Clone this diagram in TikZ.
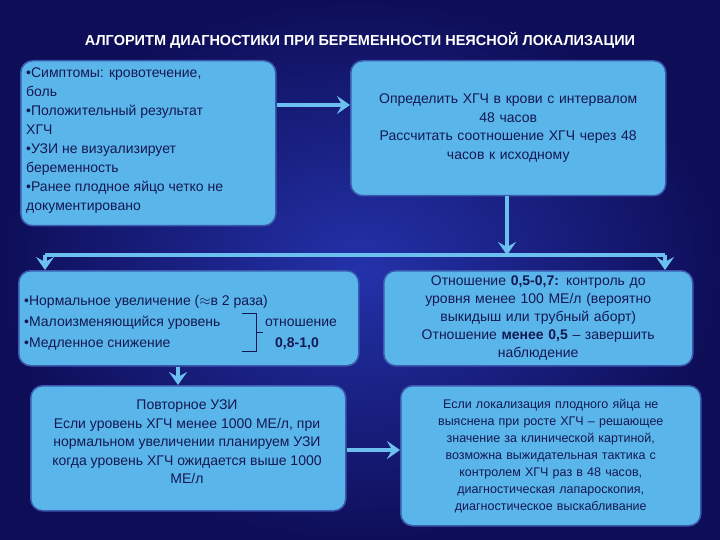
\documentclass[tikz,border=0pt]{standalone}
\usepackage{fontspec}
\setmainfont{Liberation Sans}
\usetikzlibrary{arrows.meta}
\definecolor{bx}{HTML}{5AB6EA}
\definecolor{bd}{HTML}{3A5AB0}
\definecolor{tx}{HTML}{141852}
\definecolor{ar}{HTML}{6CC0F0}
\begin{document}
\begin{tikzpicture}[x=1pt,y=-1pt,
  box/.style={draw=bd,line width=1.5pt,fill=bx,rounded corners=12pt,text=tx,font=\fontsize{14}{18.5}\selectfont,inner sep=4pt},
  ct/.style={text=tx,font=\fontsize{14}{18}\selectfont,anchor=base west,inner sep=0pt},
  arr/.style={draw=ar,line width=3.5pt,-{Stealth[length=13pt,width=18pt,inset=5pt]}},
  ln/.style={draw=ar,line width=3.5pt}]
\shade[inner color={rgb,255:red,36;green,50;blue,170},outer color={rgb,255:red,14;green,14;blue,88}] (0,0) rectangle (720,540);
\useasboundingbox (0,0) rectangle (720,540);
\node[text=white,font=\bfseries\fontsize{14.5}{17}\selectfont] (t) at (360,40) {АЛГОРИТМ ДИАГНОСТИКИ ПРИ БЕРЕМЕННОСТИ НЕЯСНОЙ ЛОКАЛИЗАЦИИ};
\node[box,minimum width=255pt,minimum height=165pt,anchor=north west] (a) at (20,60) {};
\node[text=tx,font=\fontsize{14}{19}\selectfont,align=left,anchor=north west,inner sep=0pt] (a1) at (26,68) {•Симптомы: кровотечение,\\боль\\•Положительный результат\\ХГЧ\\•УЗИ не визуализирует\\беременность\\•Ранее плодное яйцо четко не\\документировано};
\node[box,minimum width=315pt,minimum height=135pt,align=center,text width=300pt,anchor=north west] (b) at (350,60) {Определить ХГЧ в крови с интервалом\\48 часов\\Рассчитать соотношение ХГЧ через 48\\часов к исходному};
\node[box,minimum width=340pt,minimum height=95pt,anchor=north west] (c) at (18,270) {};
\node[ct] (c1) at (24,305) {•Нормальное увеличение ($\approx$в 2 раза)};
\node[ct] (c4) at (24,326) {•Малоизменяющийся уровень};
\node[ct] (c5) at (24,347) {•Медленное снижение};
\node[ct] (c2) at (265,326) {отношение};
\node[ct,font=\bfseries\fontsize{14}{18}\selectfont] (c3) at (275,347) {0,8-1,0};
\draw[tx,line width=0.8pt] (242,313) -- (256,313) -- (256,351) -- (242,351);
\draw[tx,line width=0.8pt] (256,332) -- (263,332);
\node[box,minimum width=309pt,minimum height=95pt,align=center,text width=300pt,anchor=north west,font=\fontsize{14}{18}\selectfont] (d) at (383,270) {Отношение \textbf{0,5-0,7:} контроль до\\уровня менее 100 МЕ/л (вероятно\\выкидыш или трубный аборт)\\Отношение \textbf{менее 0,5} – завершить\\наблюдение};
\node[box,minimum width=315pt,minimum height=125pt,anchor=north west] (e) at (30,385) {};
\node[text=tx,font=\fontsize{14}{18.5}\selectfont,align=center,anchor=north,inner sep=0pt] (e1) at (187,400) {Повторное УЗИ\\Если уровень ХГЧ менее 1000 МЕ/л, при\\нормальном увеличении планируем УЗИ\\когда уровень ХГЧ ожидается выше 1000\\МЕ/л};
\node[box,minimum width=300pt,minimum height=140pt,align=center,text width=290pt,anchor=north west,font=\fontsize{12.5}{17}\selectfont] (f) at (400,385) {Если локализация плодного яйца не\\выяснена при росте ХГЧ – решающее\\значение за клинической картиной,\\возможна выжидательная тактика с\\контролем ХГЧ раз в 48 часов,\\диагностическая лапароскопия,\\диагностическое выскабливание};
\coordinate (j) at (507,255);
\coordinate (jl) at (45,255);
\coordinate (jr) at (665,255);
\draw[arr] (a.east|-0,105) -- (b.west|-0,105);
\draw[arr] (b.south-|j) -- (j);
\draw[ln] (jl) -- (jr);
\draw[arr] (jl) -- (jl|-c.north);
\draw[arr] (jr) -- (jr|-d.north);
\draw[arr] (c.south-|178,0) -- (e.north-|178,0);
\draw[arr] (e.east|-0,450) -- (f.west|-0,450);
\end{tikzpicture}
\end{document}
